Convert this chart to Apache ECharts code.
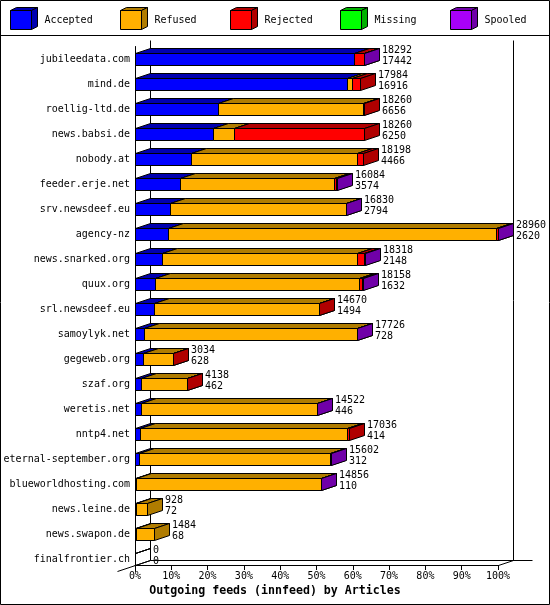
<!DOCTYPE html>
<html>
<head>
<meta charset="utf-8">
<script src="https://cdn.jsdelivr.net/npm/echarts@6/dist/echarts.min.js"></script>
<style>
html,body{margin:0;padding:0;background:#fff;}
#chart{width:550px;height:605px;}
</style>
</head>
<body>
<div id="chart"></div>
<script>
// ---- data ----
const categories = ['jubileedata.com','mind.de','roellig-ltd.de','news.babsi.de','nobody.at','feeder.erje.net','srv.newsdeef.eu','agency-nz','news.snarked.org','quux.org','srl.newsdeef.eu','samoylyk.net','gegeweb.org','szaf.org','weretis.net','nntp4.net','eternal-september.org','blueworldhosting.com','news.leine.de','news.swapon.de','finalfrontier.ch'];
const offered  = [18292,17984,18260,18260,18198,16084,16830,28960,18318,18158,14670,17726,3034,4138,14522,17036,15602,14856,928,1484,0];
const accepted = [17442,16916,6656,6250,4466,3574,2794,2620,2148,1632,1494,728,628,462,446,414,312,110,72,68,0];
const refused  = [0,380,11560,1640,13260,12280,14010,26150,15580,16200,13150,16968,2380,3650,14050,16500,15260,14700,856,1416,0];
const rejected = [820,688,44,10370,472,200,0,160,560,300,26,0,26,26,0,122,0,0,0,0,0];
const missing  = [0,0,0,0,0,0,0,0,0,0,0,0,0,0,0,0,0,0,0,0,0];
const spooled  = [30,0,0,0,0,30,26,30,30,26,0,30,0,0,26,0,30,46,0,0,0];
const seriesNames = ['Accepted','Refused','Rejected','Missing','Spooled'];
const tickLabels = ['0%','10%','20%','30%','40%','50%','60%','70%','80%','90%','100%'];
const titleText = 'Outgoing feeds (innfeed) by Articles';

// ---- styles ----
const frontColors = ['#0000ff','#ffb000','#ff0000','#00ff00','#a800f8'];
const darkColors  = ['#0000b0','#b07c00','#b00000','#00b000','#7000a8'];
const MONO = '"DejaVu Sans Mono", "Liberation Mono", monospace';
const DX = 15, DY = 5;

const segs = [accepted, refused, rejected, missing, spooled];
const xMax = Math.max.apply(null, offered);
const xInterval = xMax / 10;

function segRender(k) {
  return function (params, api) {
    const ci = api.value(2);
    const a = api.coord([api.value(0), ci]);
    const b = api.coord([api.value(1), ci]);
    const empty = api.value(1) === api.value(0);
    const x0 = Math.round(a[0]) + 0.5, x1 = Math.round(b[0]) + 0.5;
    const yt = Math.round(a[1] - 6) + 0.5, yb = yt + 12;
    const st = {stroke: '#000', lineWidth: 1};
    const f = empty ? 'none' : frontColors[k];
    const d = empty ? 'none' : darkColors[k];
    return {type: 'group', children: [
      {type: 'polygon', shape: {points: [[x0, yt], [x1, yt], [x1, yb], [x0, yb]]}, style: Object.assign({fill: f}, st)},
      {type: 'polygon', shape: {points: [[x0, yt], [x0 + DX, yt - DY], [x1 + DX, yt - DY], [x1, yt]]}, style: Object.assign({fill: d}, st)},
      {type: 'polygon', shape: {points: [[x1, yt], [x1 + DX, yt - DY], [x1 + DX, yb - DY], [x1, yb]]}, style: Object.assign({fill: d}, st)}
    ]};
  };
}

const series = [];
// frame (3D floor / back wall)
series.push({
  type: 'custom', name: 'frame', z: 1, silent: true, clip: false,
  data: [[0, 0]],
  renderItem: function (params, api) {
    const cs = params.coordSys;
    const x0 = Math.round(api.coord([0, 0])[0]) + 0.5;
    const x1 = Math.round(api.coord([xMax, 0])[0]) + 0.5;
    const yAx = Math.round(cs.y + cs.height - 6.5) + 0.5;
    const yTop = Math.round(cs.y - 6.5) + 0.5;
    const bx0 = x0 + DX, bx1 = x1 + DX, byb = yAx - DY;
    const ls = {stroke: '#000', lineWidth: 1};
    return {type: 'group', children: [
      {type: 'line', shape: {x1: bx0, y1: yTop, x2: bx0, y2: byb}, style: ls},
      {type: 'line', shape: {x1: bx1, y1: yTop, x2: bx1, y2: byb}, style: ls},
      {type: 'line', shape: {x1: bx0, y1: byb, x2: bx1 + 19, y2: byb}, style: ls},
      {type: 'line', shape: {x1: x1, y1: yAx, x2: bx1, y2: byb}, style: ls},
      {type: 'line', shape: {x1: x0 - 18, y1: yAx + 6, x2: bx0, y2: byb}, style: ls}
    ]};
  }
});

segs.forEach(function (arr, k) {
  const data = [];
  categories.forEach(function (c, i) {
    let start = 0;
    for (let j = 0; j < k; j++) start += segs[j][i];
    const v = arr[i];
    if (v > 0 || (k === 0 && offered[i] === 0)) data.push([start, start + v, i]);
  });
  series.push({
    type: 'custom', name: seriesNames[k], z: 3 + k, clip: false,
    encode: {x: [0, 1], y: 2},
    data: data,
    renderItem: segRender(k)
  });
});

// value labels
series.push({
  type: 'custom', name: 'labels', z: 10, clip: false,
  encode: {x: 0, y: 1},
  data: categories.map(function (c, i) { return [offered[i], i, accepted[i]]; }),
  renderItem: function (params, api) {
    const p = api.coord([api.value(0), api.value(1)]);
    return {type: 'text', x: Math.round(p[0]) + DX + 3, y: p[1] - 3,
      style: {text: api.value(0) + '\n' + api.value(2), fontFamily: MONO, fontSize: 10,
        fill: '#000', align: 'left', verticalAlign: 'middle', lineHeight: 11}};
  }
});

// legend drawn as 3D cubes
const graphics = [
  {type: 'rect', shape: {x: 0.5, y: 0.5, width: 549, height: 604}, style: {fill: 'none', stroke: '#000', lineWidth: 1}, z: 100},
  {type: 'line', shape: {x1: 0, y1: 35.5, x2: 550, y2: 35.5}, style: {stroke: '#000', lineWidth: 1}, z: 100}
];
seriesNames.forEach(function (n, k) {
  const lx = 10.5 + k * 110, ly = 10.5, w = 21, h = 19, d = 6, e = 3;
  graphics.push({type: 'group', z: 100, children: [
    {type: 'polygon', shape: {points: [[lx, ly], [lx + w, ly], [lx + w, ly + h], [lx, ly + h]]}, style: {fill: frontColors[k], stroke: '#000', lineWidth: 1}},
    {type: 'polygon', shape: {points: [[lx, ly], [lx + d, ly - e], [lx + w + d, ly - e], [lx + w, ly]]}, style: {fill: darkColors[k], stroke: '#000', lineWidth: 1}},
    {type: 'polygon', shape: {points: [[lx + w, ly], [lx + w + d, ly - e], [lx + w + d, ly + h - e], [lx + w, ly + h]]}, style: {fill: darkColors[k], stroke: '#000', lineWidth: 1}},
    {type: 'text', x: lx + 34, y: 20.5, style: {text: n, fontFamily: MONO, fontSize: 10, fill: '#000', align: 'left', verticalAlign: 'middle'}}
  ]});
});

const chart = echarts.init(document.getElementById('chart'), null, {renderer: 'canvas'});
chart.setOption({
  animation: false,
  backgroundColor: '#fff',
  title: {text: titleText, left: 'center', top: 585, padding: 0,
    textStyle: {fontFamily: MONO, fontSize: 11.6, fontWeight: 'bold', color: '#000'}},
  grid: {left: 135, top: 46.5, width: 363, height: 525, containLabel: false},
  xAxis: {
    type: 'value', min: 0, max: xMax, interval: xInterval, offset: -6.5,
    axisLine: {show: true, lineStyle: {color: '#000', width: 1}},
    axisTick: {show: true, length: 5, lineStyle: {color: '#000'}},
    splitLine: {show: false},
    axisLabel: {margin: 6, color: '#000', fontFamily: MONO, fontSize: 10,
      formatter: function (v) { return tickLabels[Math.round(v / xInterval)]; }}
  },
  yAxis: {
    type: 'category', inverse: true, data: categories,
    axisLine: {show: true, lineStyle: {color: '#000', width: 1}},
    axisTick: {show: false},
    splitLine: {show: false},
    axisLabel: {margin: 5, color: '#000', fontFamily: MONO, fontSize: 10, interval: 0}
  },
  graphic: graphics,
  series: series
});
</script>
</body>
</html>
